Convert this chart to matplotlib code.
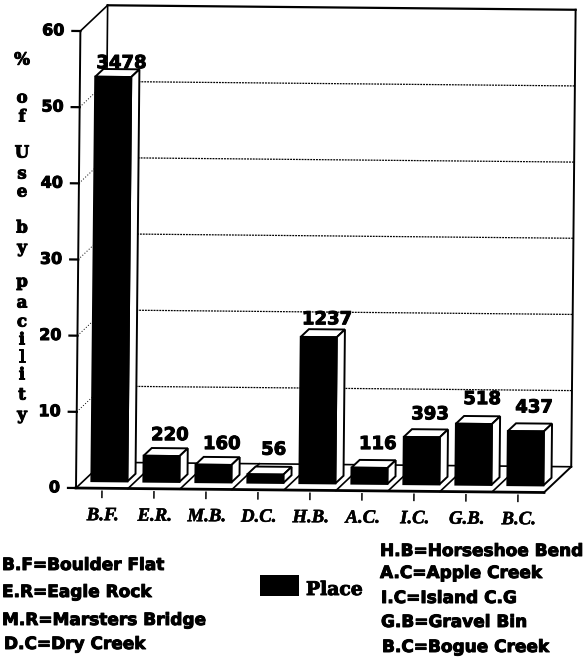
import matplotlib
matplotlib.use('Agg')
import matplotlib.pyplot as plt
import matplotlib.patheffects as pe
from matplotlib.patches import Polygon, Rectangle
from matplotlib.transforms import Affine2D

# data
codes = ["B.F.", "E.R.", "M.B.", "D.C.", "H.B.", "A.C.", "I.C.", "G.B.", "B.C."]
percent = [53.1, 3.4, 2.3, 1.1, 19.2, 2.1, 6.2, 8.0, 7.1]
counts = [3478, 220, 160, 56, 1237, 116, 393, 518, 437]
y_ticks = [0, 10, 20, 30, 40, 50, 60]
left_key = ["B.F=Boulder Flat", "E.R=Eagle Rock", "M.R=Marsters Bridge", "D.C=Dry Creek"]
right_key = ["H.B=Horseshoe Bend", "A.C=Apple Creek", "I.C=Island C.G", "G.B=Gravel Bin", "B.C=Bogue Creek"]
y_letters = list("%ofUsebypacility")

# layout, in pixels unless noted
W, H = 586, 662
label_lift = [6, 13, 13, 17, 10, 16, 15, 17, 16]
letter_y = [60, 98, 117, 153, 174, 192, 228, 248, 282, 303, 322, 340, 357, 375, 395, 415]
left_key_y = [565, 592, 620, 644]
left_key_x = [2, 2, 2, 4]
right_key_y = [551, 573, 598, 622, 647]
right_key_x = [380, 380, 381, 381, 382]

# the scan sits slightly rotated, depth runs up and to the right
DEPTH_X = 27 / 52
DEPTH_Y = 26 * 60 / 457
BAR_W = 36 / 52
BAR_D0, BAR_D1 = 0.27, 0.57

heavy = [pe.withStroke(linewidth=0.7, foreground='black')]


def fx(x):
    return x / W


def fy(y):
    return 1 - y / H


def at(x, v, d=0):
    return (x + d * DEPTH_X, v + d * DEPTH_Y)


fig = plt.figure(figsize=(W / 100, H / 100), dpi=100, facecolor='white')
ax = fig.add_axes([fx(76), fy(488), 468 / W, 457 / H])
ax.set_xlim(-0.5, 8.5)
ax.set_ylim(0, 60)
ax.axis('off')
rot = ax.transData + Affine2D().rotate_deg_around(76, H - 488, -0.55)


def line(p, q, lw=1.2, ls='-', z=2):
    ax.plot([p[0], q[0]], [p[1], q[1]], color='black', lw=lw, ls=ls, transform=rot,
            clip_on=False, zorder=z, solid_capstyle='projecting')


x0, x1 = -0.5, 8.5
# walls and floor
line(at(x0, 0), at(x0, 60), lw=1.4)
line(at(x0, 60), at(x0, 60, 1))
line(at(x0, 0, 1), at(x0, 60, 1))
line(at(x0, 60, 1), at(x1, 60, 1), lw=1.6)
line(at(x1, 0, 1), at(x1, 60, 1), lw=1.4)
line(at(x0, 0), at(x1, 0), lw=2)
line(at(x0, 0, 1), at(x1, 0, 1), lw=1.2)
line(at(x0, 0), at(x0, 0, 1))
line(at(x1, 0), at(x1, 0, 1), lw=1.4)

# dividers on the floor
for i in range(1, len(codes)):
    line(at(i - 0.5, 0), at(i - 0.5, 0, 1))

# gridlines
for t in y_ticks:
    line(at(x0 - 8 / 52, t), at(x0, t), lw=1.6)
    ax.text(*at(x0 - 16 / 52, t), str(t), transform=rot, ha='right', va='center', fontsize=11.5,
            fontweight='bold', family='DejaVu Sans', clip_on=False, path_effects=heavy)
    if t > 0 and t < 60:
        line(at(x0, t), at(x0, t, 1), lw=0.7, ls=(0, (1, 2)))
        line(at(x0, t, 1), at(x1, t, 1), lw=0.9, ls=(0, (1.5, 0.8)))

# bars
for i, (v, n) in enumerate(zip(percent, counts)):
    a = i - BAR_W / 2
    b = i + BAR_W / 2
    top = Polygon([at(a, v, BAR_D0), at(b, v, BAR_D0), at(b, v, BAR_D1), at(a, v, BAR_D1)],
                  facecolor='white', edgecolor='black', lw=1.4, transform=rot, clip_on=False, zorder=3)
    side = Polygon([at(b, 0, BAR_D0), at(b, v, BAR_D0), at(b, v, BAR_D1), at(b, 0, BAR_D1)],
                   facecolor='white', edgecolor='black', lw=1.4, transform=rot, clip_on=False, zorder=3)
    front = Polygon([at(a, 0, BAR_D0), at(b, 0, BAR_D0), at(b, v, BAR_D0), at(a, v, BAR_D0)],
                    facecolor='black', edgecolor='black', lw=1.4, transform=rot, clip_on=False, zorder=4)
    ax.add_patch(top)
    ax.add_patch(side)
    ax.add_patch(front)
    ax.annotate(str(n), xy=at(i, v, BAR_D1), xycoords=rot, xytext=(0, label_lift[i]),
                textcoords='offset pixels', ha='center', va='center', fontsize=13,
                fontweight='bold', family='DejaVu Sans', zorder=5, annotation_clip=False,
                path_effects=heavy)

# x ticks and labels
for i, code in enumerate(codes):
    line(at(i, -0.4), at(i, -1.2), lw=1.1)
    ax.text(*at(i + 0.02, -3.6), code, transform=rot, ha='center', va='center', fontsize=13.5,
            fontweight='bold', fontstyle='italic', family='Liberation Serif', clip_on=False,
            path_effects=[pe.withStroke(linewidth=0.4, foreground='black')])

# stacked y label
for ch, y in zip(y_letters, letter_y):
    fig.text(fx(22), fy(y), ch, ha='center', va='center', fontsize=12,
             fontweight='bold', family='DejaVu Serif', path_effects=heavy)

# key
for s, x, y in zip(left_key, left_key_x, left_key_y):
    fig.text(fx(x), fy(y), s, ha='left', va='center', fontsize=12.2,
             fontweight='bold', family='DejaVu Sans', path_effects=heavy)
for s, x, y in zip(right_key, right_key_x, right_key_y):
    fig.text(fx(x), fy(y), s, ha='left', va='center', fontsize=12.2,
             fontweight='bold', family='DejaVu Sans', path_effects=heavy)
fig.add_artist(Rectangle((fx(260), fy(596)), 39 / W, 21 / H, facecolor='black', edgecolor='none',
                         transform=fig.transFigure))
fig.text(fx(306), fy(590), "Place", ha='left', va='center', fontsize=13.5,
         fontweight='bold', family='DejaVu Serif', path_effects=heavy)

fig.savefig('out.png', dpi=100)
